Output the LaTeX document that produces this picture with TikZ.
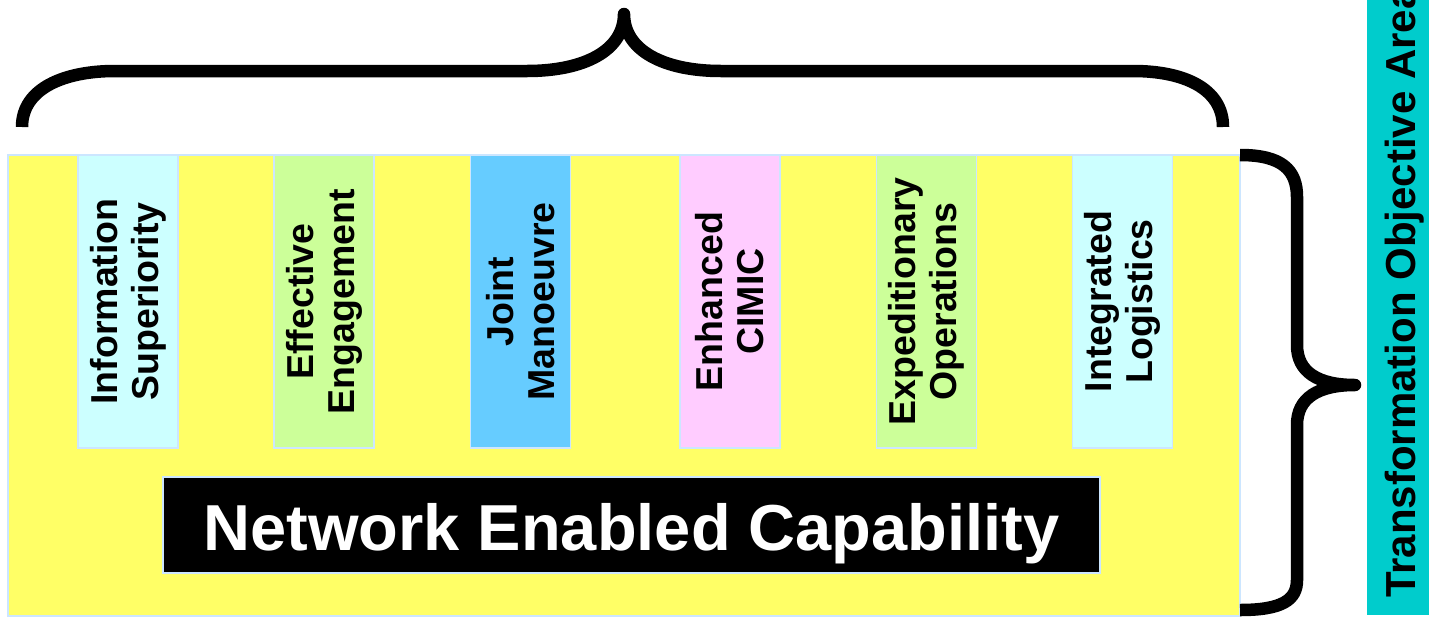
\documentclass[tikz,border=0pt]{standalone}
\usepackage{fontspec}
\setmainfont{Liberation Sans}
\definecolor{bgyellow}{HTML}{FFFF66}
\definecolor{bord}{HTML}{CCE6FF}
\definecolor{lcyan}{HTML}{CCFFFF}
\definecolor{lgreen}{HTML}{CCFF99}
\definecolor{mblue}{HTML}{66CCFF}
\definecolor{lpink}{HTML}{FFCCFF}
\definecolor{tealbar}{HTML}{00CCCC}
\begin{document}
\begin{tikzpicture}[x=1pt,y=1pt,
  colbox/.style={draw=bord, line width=1.2pt, rotate=90, minimum width=293pt,
    minimum height=100pt, inner sep=0pt, align=center,
    font=\fontsize{37.5}{41}\selectfont\bfseries},
  brace/.style={line width=12.5pt, line join=round, line cap=butt}]
\useasboundingbox (0,0) rectangle (1429,-619);
\clip (0,0) rectangle (1429,-619);
% main yellow area
\node (main) [fill=bgyellow, draw=bord, line width=1.2pt, minimum width=1232pt,
  minimum height=461pt, inner sep=0pt] at (624,-385.5) {};
% columns
\node (c1) [colbox, fill=lcyan]  at (128,-301.5)   {Information\\Superiority};
\node (c2) [colbox, fill=lgreen] at (324,-301.5)   {Effective\\Engagement};
\node (c3) [colbox, fill=mblue]  at (520.5,-301.5) {Joint\\Manoeuvre};
\node (c4) [colbox, fill=lpink]  at (730,-301.5)   {Enhanced\\CIMIC};
\node (c5) [colbox, fill=lgreen] at (926.5,-301.5) {Expeditionary\\Operations};
\node (c6) [colbox, fill=lcyan]  at (1122.5,-301.5){Integrated\\Logistics};
% network enabled capability
\node (necbox) [fill=black, draw=bord, line width=1.2pt, minimum width=937pt,
  minimum height=96pt, inner sep=0pt] at (631.5,-525) {};
\node (nectext) [anchor=base, text=white, inner sep=0pt,
  font=\fontsize{65}{70}\selectfont\bfseries] at (631.5,-550) {Network Enabled Capability};
% right bar
\node (toa) [fill=tealbar, minimum width=62pt, minimum height=630pt, inner sep=0pt,
  anchor=south west] at (1367,-615) {};
\node (toatext) [rotate=90, anchor=base west, inner sep=0pt,
  font=\fontsize{42}{46}\selectfont\bfseries] at (1415,-598) {Transformation Objective Area};
% top brace
\draw[brace] (22,-127) .. controls (22,-88) and (65,-71) .. (115,-71)
  -- (527,-71) .. controls (585,-71) and (624,-50) .. (624,-14)
  .. controls (624,-50) and (663,-71) .. (721,-71)
  -- (1133,-71) .. controls (1183,-71) and (1223,-88) .. (1223,-127);
% right brace
\draw[brace] (1240,-155) .. controls (1282,-155) and (1297,-170) .. (1297,-197)
  -- (1297,-345) .. controls (1297,-372) and (1318,-385) .. (1355,-385)
  .. controls (1318,-385) and (1297,-398) .. (1297,-425)
  -- (1297,-580) .. controls (1297,-600) and (1282,-610) .. (1240,-610);
\end{tikzpicture}
\end{document}
